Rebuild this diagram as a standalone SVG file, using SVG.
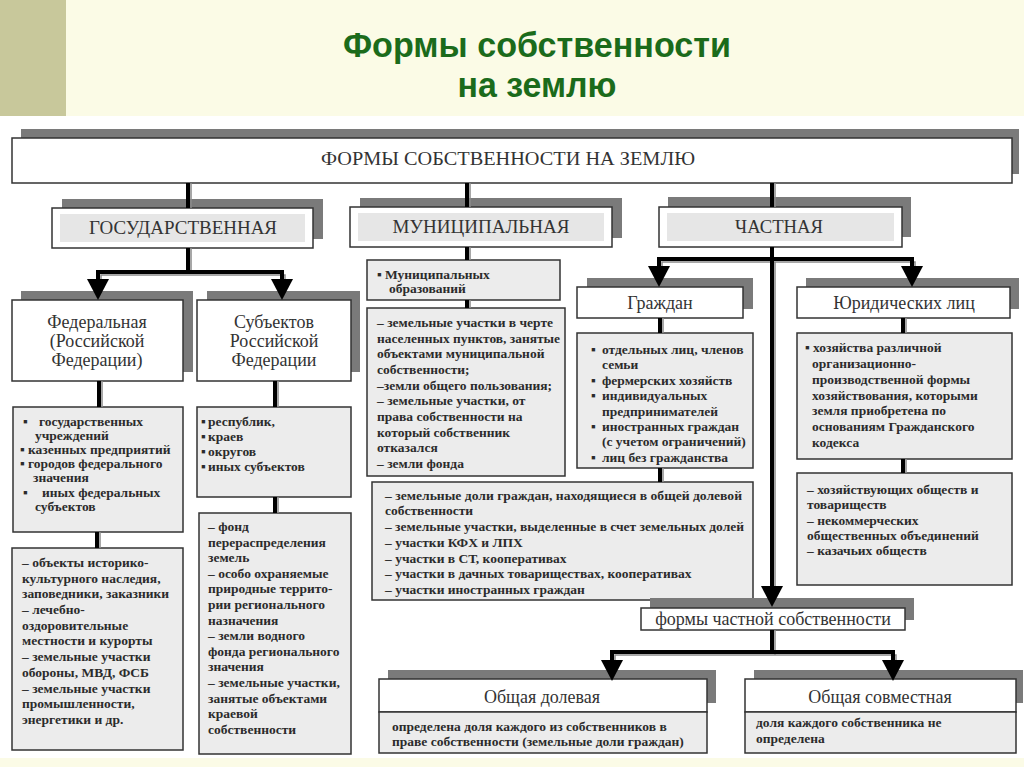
<svg xmlns="http://www.w3.org/2000/svg" width="1024" height="767" viewBox="0 0 1024 767">
<defs>
<style>
.sh{fill:#7a7a7a}
.bx{fill:#fff;stroke:#333;stroke-width:1.5}
.lb{fill:#ececec;stroke:#333;stroke-width:1.5}
.band{fill:#e6e6e6}
.hd{font-family:"Liberation Serif",serif;font-size:19px;fill:#333;text-anchor:middle}
.h3{font-family:"Liberation Serif",serif;font-size:18px;fill:#333;text-anchor:middle}
.li{font-family:"Liberation Serif",serif;font-size:13.5px;font-weight:bold;fill:#2b2b2b}
.ttl{font-family:"Liberation Sans",Arial,sans-serif;font-size:35px;font-weight:bold;fill:#1b6b1b;text-anchor:middle}
.c{fill:none;stroke:#000;stroke-width:4}
.cs{fill:none;stroke:#8a8a8a;stroke-width:1.5}
</style>
<marker id="arr" viewBox="0 0 22 22" refX="6" refY="11" markerWidth="22" markerHeight="22" markerUnits="userSpaceOnUse" orient="auto-start-reverse">
<path d="M0,0 L21,11 L0,22 Z" fill="#000"/>
</marker>
</defs>

<rect x="0" y="0" width="1024" height="767" fill="#fff"/>
<rect x="0" y="0" width="1024" height="116" fill="#fbfbe6"/>
<rect x="0" y="0" width="66" height="116" fill="#c8c89b"/>
<rect x="0" y="758" width="1024" height="9" fill="#fbfbe6"/>
<text class="ttl" x="537" y="57" textLength="388" lengthAdjust="spacingAndGlyphs">Формы собственности</text>
<text class="ttl" x="537" y="97" textLength="159" lengthAdjust="spacingAndGlyphs">на землю</text>

<g id="n-root">
<rect class="sh" x="21" y="129" width="998" height="45"/>
<rect class="bx" x="12" y="138" width="1000" height="45"/>
<text class="hd" x="508" y="165" textLength="374" lengthAdjust="spacingAndGlyphs">ФОРМЫ СОБСТВЕННОСТИ НА ЗЕМЛЮ</text>
</g>

<g id="n-gos">
<rect class="sh" x="62" y="199" width="261" height="40"/>
<rect class="bx" x="52" y="208" width="261" height="40"/>
<rect class="band" x="60" y="214" width="245" height="28"/>
<text class="hd" x="183" y="234" textLength="188" lengthAdjust="spacingAndGlyphs">ГОСУДАРСТВЕННАЯ</text>
</g>

<g id="n-mun">
<rect class="sh" x="360" y="198" width="262" height="40"/>
<rect class="bx" x="350" y="207" width="262" height="40"/>
<rect class="band" x="358" y="213" width="246" height="28"/>
<text class="hd" x="481" y="233" textLength="177" lengthAdjust="spacingAndGlyphs">МУНИЦИПАЛЬНАЯ</text>
</g>

<g id="n-priv">
<rect class="sh" x="668" y="197" width="243" height="40"/>
<rect class="bx" x="659" y="207" width="243" height="40"/>
<rect class="band" x="667" y="213" width="227" height="28"/>
<text class="hd" x="779" y="233" textLength="88" lengthAdjust="spacingAndGlyphs">ЧАСТНАЯ</text>
</g>

<g id="n-fed">
<rect class="sh" x="21" y="291" width="172" height="81"/>
<rect class="bx" x="12" y="300" width="171" height="81"/>
<text class="h3" x="97" y="328">Федеральная</text>
<text class="h3" x="97" y="347">(Российской</text>
<text class="h3" x="97" y="366">Федерации)</text>
</g>

<g id="n-subj">
<rect class="sh" x="207" y="291" width="153" height="81"/>
<rect class="bx" x="197" y="300" width="154" height="81"/>
<text class="h3" x="274" y="328">Субъектов</text>
<text class="h3" x="274" y="347">Российской</text>
<text class="h3" x="274" y="366">Федерации</text>
</g>

<g id="n-fed-list">
<rect class="lb" x="13" y="407" width="170" height="125"/>
<text class="li" y="426"><tspan x="23">▪</tspan><tspan x="39">государственных</tspan></text>
<text class="li" x="35" y="440">учреждений</text>
<text class="li" y="454"><tspan x="20">▪</tspan><tspan x="28">казенных предприятий</tspan></text>
<text class="li" y="468"><tspan x="20">▪</tspan><tspan x="28">городов федерального</tspan></text>
<text class="li" x="33" y="482">значения</text>
<text class="li" y="497"><tspan x="23">▪</tspan><tspan x="42">иных федеральных</tspan></text>
<text class="li" x="35" y="511">субъектов</text>
</g>

<g id="n-subj-list">
<rect class="lb" x="197" y="407" width="154" height="90"/>
<text class="li" y="426"><tspan x="201">▪</tspan><tspan x="208">республик,</tspan></text>
<text class="li" y="441"><tspan x="201">▪</tspan><tspan x="208">краев</tspan></text>
<text class="li" y="456"><tspan x="201">▪</tspan><tspan x="208">округов</tspan></text>
<text class="li" y="471"><tspan x="201">▪</tspan><tspan x="208">иных субъектов</tspan></text>
</g>

<g id="n-fed-objects">
<rect class="lb" x="12" y="548" width="171" height="202"/>
<text class="li" x="22" y="567">– объекты историко-</text>
<text class="li" x="22" y="583">культурного наследия,</text>
<text class="li" x="22" y="598">заповедники, заказники</text>
<text class="li" x="22" y="614">– лечебно-</text>
<text class="li" x="22" y="630">оздоровительные</text>
<text class="li" x="22" y="645">местности и курорты</text>
<text class="li" x="22" y="661">– земельные участки</text>
<text class="li" x="22" y="677">обороны, МВД, ФСБ</text>
<text class="li" x="22" y="693">– земельные участки</text>
<text class="li" x="22" y="708">промышленности,</text>
<text class="li" x="22" y="724">энергетики и др.</text>
</g>

<g id="n-subj-objects">
<rect class="lb" x="199" y="513" width="152" height="241"/>
<text class="li" x="208" y="531">– фонд</text>
<text class="li" x="208" y="547">перераспределения</text>
<text class="li" x="208" y="562">земель</text>
<text class="li" x="208" y="578">– особо охраняемые</text>
<text class="li" x="208" y="593">природные террито-</text>
<text class="li" x="208" y="609">рии регионального</text>
<text class="li" x="208" y="625">назначения</text>
<text class="li" x="208" y="640">– земли водного</text>
<text class="li" x="208" y="656">фонда регионального</text>
<text class="li" x="208" y="671">значения</text>
<text class="li" x="208" y="687">– земельные участки,</text>
<text class="li" x="208" y="703">занятые объектами</text>
<text class="li" x="208" y="718">краевой</text>
<text class="li" x="208" y="734">собственности</text>
</g>

<g id="n-mun-list">
<rect class="lb" x="367" y="260" width="193" height="40"/>
<text class="li" y="279"><tspan x="377">▪</tspan><tspan x="385">Муниципальных</tspan></text>
<text class="li" x="389" y="293">образований</text>
</g>

<g id="n-mun-objects">
<rect class="lb" x="367" y="308" width="198" height="168"/>
<text class="li" x="377" y="327">– земельные участки в черте</text>
<text class="li" x="377" y="343" textLength="183" lengthAdjust="spacingAndGlyphs">населенных пунктов, занятые</text>
<text class="li" x="377" y="358">объектами муниципальной</text>
<text class="li" x="377" y="374">собственности;</text>
<text class="li" x="377" y="390">–земли общего пользования;</text>
<text class="li" x="377" y="405">– земельные участки, от</text>
<text class="li" x="377" y="421">права собственности на</text>
<text class="li" x="377" y="437">который собственник</text>
<text class="li" x="377" y="452">отказался</text>
<text class="li" x="377" y="468">– земли фонда</text>
</g>

<g id="n-citizens">
<rect class="sh" x="587" y="278" width="166" height="31"/>
<rect class="bx" x="577" y="287" width="166" height="31"/>
<text class="h3" x="660" y="309">Граждан</text>
</g>

<g id="n-citizens-list">
<rect class="lb" x="577" y="333" width="176" height="135"/>
<text class="li" y="354"><tspan x="591">▪</tspan><tspan x="602">отдельных лиц, членов</tspan></text>
<text class="li" x="602" y="369">семьи</text>
<text class="li" y="385"><tspan x="591">▪</tspan><tspan x="602">фермерских хозяйств</tspan></text>
<text class="li" y="400"><tspan x="591">▪</tspan><tspan x="602">индивидуальных</tspan></text>
<text class="li" x="602" y="416">предпринимателей</text>
<text class="li" y="431"><tspan x="591">▪</tspan><tspan x="602">иностранных граждан</tspan></text>
<text class="li" x="602" y="446">(с учетом ограничений)</text>
<text class="li" y="462"><tspan x="591">▪</tspan><tspan x="602">лиц без гражданства</tspan></text>
</g>

<g id="n-citizens-land">
<rect class="lb" x="372" y="482" width="381" height="118"/>
<text class="li" x="385" y="500" textLength="357" lengthAdjust="spacingAndGlyphs">– земельные доли граждан, находящиеся в общей долевой</text>
<text class="li" x="385" y="515">собственности</text>
<text class="li" x="385" y="531" textLength="359" lengthAdjust="spacingAndGlyphs">– земельные участки, выделенные в счет земельных долей</text>
<text class="li" x="385" y="547">–  участки КФХ и ЛПХ</text>
<text class="li" x="385" y="563">–  участки в СТ, кооперативах</text>
<text class="li" x="385" y="578">– участки в дачных товариществах, кооперативах</text>
<text class="li" x="385" y="594">–  участки иностранных граждан</text>
</g>

<g id="n-legal">
<rect class="sh" x="806" y="278" width="213" height="31"/>
<rect class="bx" x="797" y="287" width="213" height="31"/>
<text class="h3" x="904" y="309">Юридических лиц</text>
</g>

<g id="n-legal-list">
<rect class="lb" x="797" y="333" width="215" height="126"/>
<text class="li" y="352"><tspan x="805">▪</tspan><tspan x="813">хозяйства различной</tspan></text>
<text class="li" x="812" y="368">организационно-</text>
<text class="li" x="812" y="384">производственной формы</text>
<text class="li" x="812" y="400">хозяйствования, которыми</text>
<text class="li" x="812" y="415">земля приобретена по</text>
<text class="li" x="812" y="431">основаниям Гражданского</text>
<text class="li" x="812" y="447">кодекса</text>
</g>

<g id="n-legal-types">
<rect class="lb" x="797" y="473" width="215" height="112"/>
<text class="li" x="807" y="494">– хозяйствующих обществ и</text>
<text class="li" x="807" y="509">товариществ</text>
<text class="li" x="807" y="525">– некоммерческих</text>
<text class="li" x="807" y="540">общественных объединений</text>
<text class="li" x="807" y="555">– казачьих обществ</text>
</g>

<g id="n-private-forms">
<rect class="sh" x="650" y="598" width="264" height="22"/>
<rect class="bx" x="641" y="608" width="264" height="22"/>
<text class="h3" x="773" y="625">формы частной собственности</text>
</g>

<g id="n-shared">
<rect class="sh" x="388" y="670" width="328" height="33"/>
<rect class="bx" x="379" y="679" width="328" height="33"/>
<rect class="lb" x="379" y="712" width="328" height="41"/>
<text class="h3" x="542" y="703">Общая долевая</text>
<text class="li" x="392" y="731">определена доля каждого из собственников в</text>
<text class="li" x="392" y="746">праве собственности  (земельные доли граждан)</text>
</g>

<g id="n-joint">
<rect class="sh" x="754" y="670" width="269" height="33"/>
<rect class="bx" x="745" y="679" width="271" height="33"/>
<rect class="lb" x="745" y="712" width="271" height="41"/>
<text class="h3" x="880" y="703">Общая совместная</text>
<text class="li" x="756" y="727">доля каждого собственника не</text>
<text class="li" x="756" y="743">определена</text>
</g>

<g id="connectors">
<path class="cs" d="M191,183 V208 M470,183 V207 M775,183 V207 M191,248 V272 M101,284 V275 H285 V284 M102,381 V407 M100,532 V548 M278,381 V407 M278,497 V513 M470,247 V260 M470,300 V308 M775,262 V590 M662,272 V262 H915 V272 M663,318 V333 M663,468 V482 M906,318 V333 M906,459 V473 M775,630 V655 M615,666 V655 H896 V666"/>
<path class="c" d="M188,183 V208 M467,183 V207 M772,183 V207 M188,248 V272 M99,381 V407 M97,532 V548 M275,381 V407 M275,497 V513 M467,247 V260 M467,300 V308 M660,318 V333 M660,468 V482 M903,318 V333 M903,459 V473 M772,630 V652"/>
<path class="c" marker-start="url(#arr)" marker-end="url(#arr)" d="M98,285 V272 H282 V285"/>
<path class="c" marker-start="url(#arr)" marker-end="url(#arr)" d="M659,272 V259 H912 V272"/>
<path class="c" marker-end="url(#arr)" d="M772,247 V592"/>
<path class="c" marker-start="url(#arr)" marker-end="url(#arr)" d="M612,666 V652 H893 V666"/>
</g>
</svg>
